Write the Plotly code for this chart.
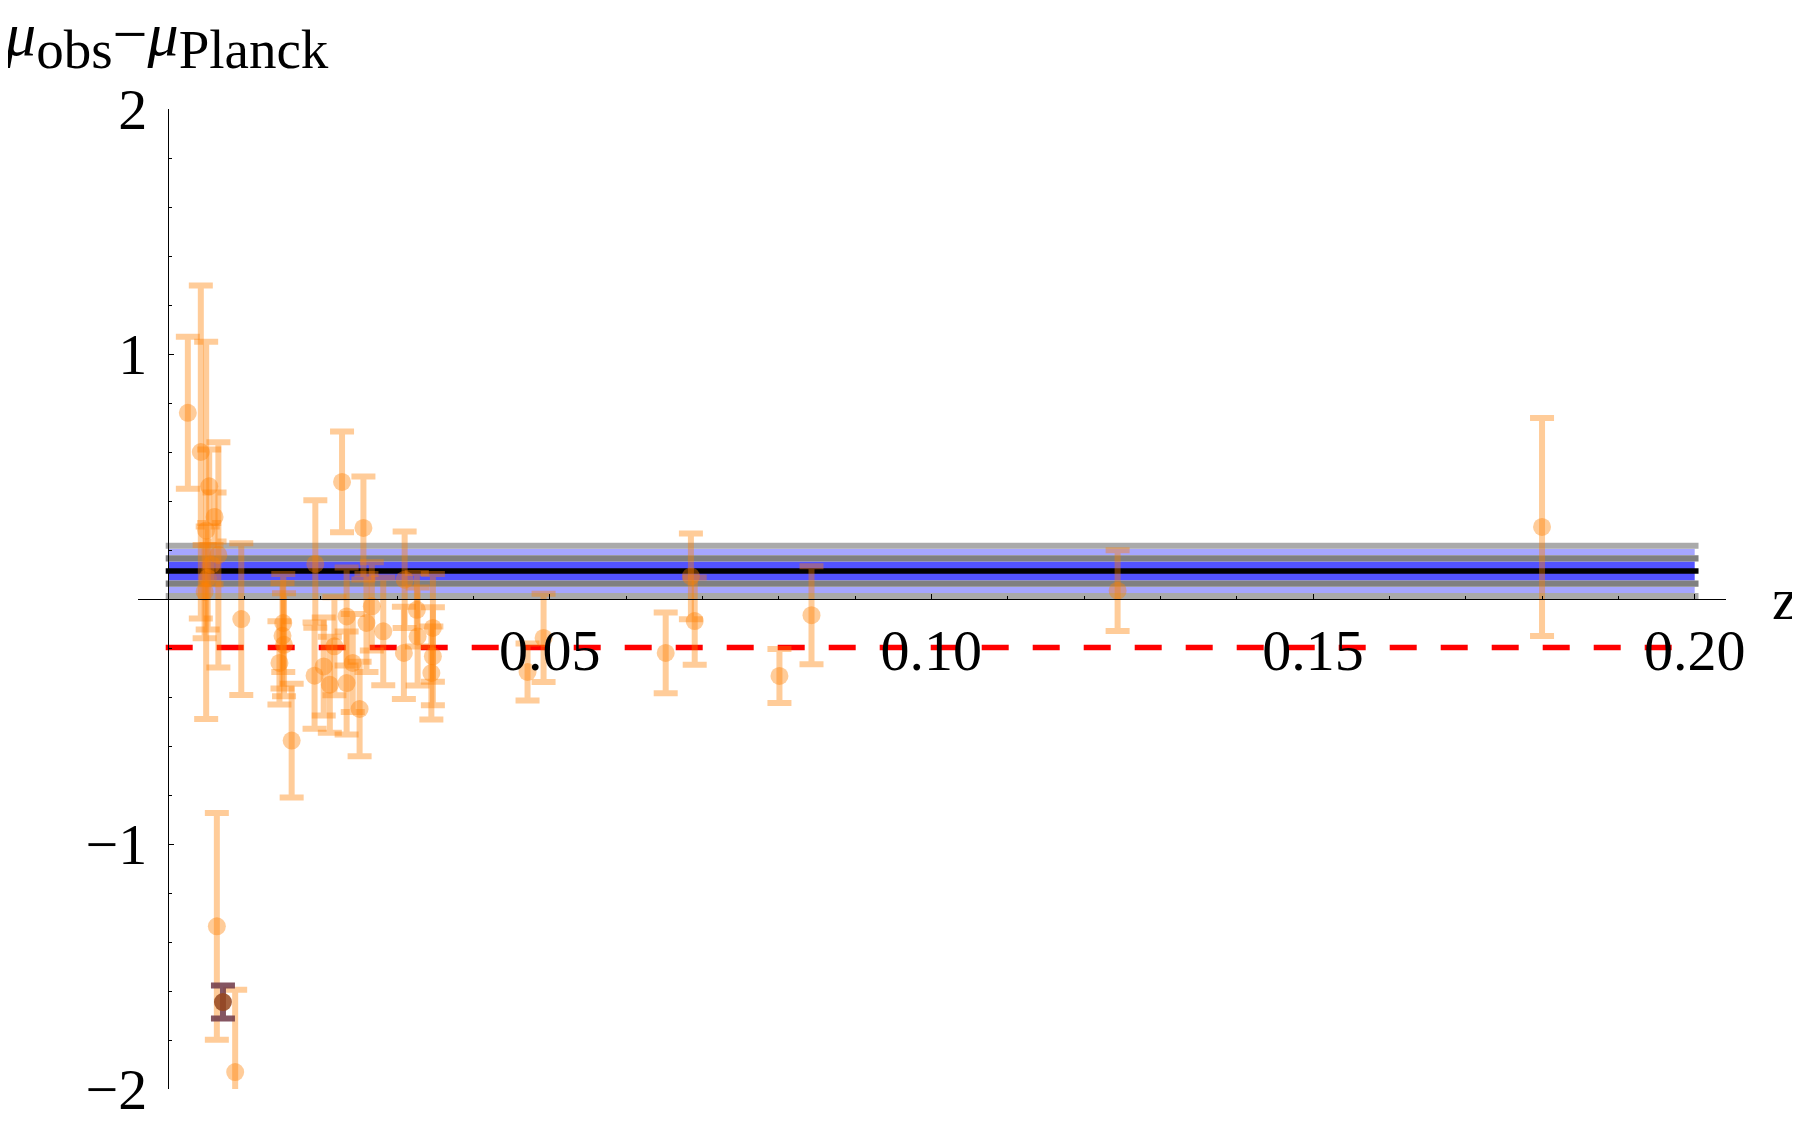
import plotly.graph_objects as go

# supernova points: redshift, mu_obs - mu_Planck, 1-sigma error
z_sn = [0.0026, 0.0043, 0.0050, 0.0054, 0.0061, 0.0066, 0.0052, 0.0048, 0.0057,
        0.0064, 0.0088, 0.0096, 0.0151, 0.0150, 0.0152, 0.0146, 0.0162,
        0.0193, 0.0192, 0.0204, 0.0212, 0.0218, 0.0228, 0.0234, 0.0234, 0.0242,
        0.0251, 0.0256, 0.0260, 0.0267, 0.0282, 0.0310, 0.0309, 0.0326, 0.0327,
        0.0347, 0.0347, 0.0345, 0.0471, 0.0492, 0.0652, 0.0685, 0.0690, 0.0801,
        0.0843, 0.1244, 0.1800]
dmu_sn = [0.76, 0.60, 0.28, 0.46, 0.335, 0.18, 0.086, 0.03, 0.14,
          -1.336, -1.931, -0.082, -0.098, -0.150, -0.187, -0.261, -0.578,
          0.143, -0.313, -0.275, -0.350, -0.193, 0.478, -0.071, -0.343, -0.261,
          -0.449, 0.290, -0.098, -0.030, -0.132, 0.079, -0.220, -0.044, -0.153,
          -0.118, -0.234, -0.302, -0.298, -0.159, -0.220, 0.092, -0.090, -0.314,
          -0.066, 0.034, 0.294]
err_sn = [0.31, 0.68, 0.77, 0.15, 0.10, 0.46, 0.21, 0.19, 0.08,
          0.463, 0.336, 0.31, 0.20, 0.215, 0.21, 0.17, 0.232,
          0.26, 0.217, 0.20, 0.196, 0.20, 0.206, 0.20, 0.21, 0.20,
          0.193, 0.21, 0.20, 0.18, 0.22, 0.197, 0.188, 0.15, 0.20,
          0.22, 0.20, 0.19, 0.116, 0.18, 0.165, 0.175, 0.178, 0.11,
          0.20, 0.165, 0.445]

# highlighted object
z_special = [0.0072]
dmu_special = [-1.645]
err_special = [0.067]

# fitted offset and its bands
fit_center = 0.1145
fit_sigma_lines = [0.0515, 0.103]   # gray edge lines at +-1, +-2 sigma
fit_z_range = [0.0, 0.2]
ref_level = -0.198                  # red dashed reference

y_ticks = [-2, -1, 1, 2]
x_ticks = [0.05, 0.10, 0.15, 0.20]

FONT = "Liberation Serif"
ORANGE = "rgba(255,128,0,0.4)"

fig = go.Figure()

# bands (drawn under the points)
shapes = []
z0, z1 = fit_z_range
s1, s2 = fit_sigma_lines
half_line = 0.0125
for sgn in (1, -1):
    # inner (1 sigma) fill
    shapes.append(dict(type="rect", xref="x", yref="y", x0=z0, x1=z1,
                       y0=fit_center, y1=fit_center + sgn * (s1 - half_line),
                       fillcolor="rgb(82,82,255)", line_width=0, layer="below"))
    # outer (2 sigma) fill
    shapes.append(dict(type="rect", xref="x", yref="y", x0=z0, x1=z1,
                       y0=fit_center + sgn * (s1 + half_line),
                       y1=fit_center + sgn * (s2 - half_line),
                       fillcolor="rgb(166,166,255)", line_width=0, layer="below"))
    # gray edge lines
    shapes.append(dict(type="rect", xref="x", yref="y", x0=z0 - 0.0003, x1=z1 + 0.0005,
                       y0=fit_center + sgn * (s1 - half_line),
                       y1=fit_center + sgn * (s1 + half_line),
                       fillcolor="rgb(128,128,128)", line_width=0, layer="below"))
    shapes.append(dict(type="rect", xref="x", yref="y", x0=z0 - 0.0003, x1=z1 + 0.0005,
                       y0=fit_center + sgn * (s2 - half_line),
                       y1=fit_center + sgn * (s2 + half_line),
                       fillcolor="rgb(170,170,170)", line_width=0, layer="below"))
# best fit line
shapes.append(dict(type="rect", xref="x", yref="y", x0=z0 - 0.0003, x1=z1 + 0.0005,
                   y0=fit_center - 0.0115, y1=fit_center + 0.0115,
                   fillcolor="black", line_width=0, layer="below"))
# reference level
shapes.append(dict(type="line", xref="x", yref="y", x0=z0 - 0.0003, x1=z1,
                   y0=ref_level, y1=ref_level,
                   line=dict(color="rgb(255,0,0)", width=5.3, dash="27px,24px"),
                   layer="below"))

fig.add_trace(go.Scatter(
    x=z_sn, y=dmu_sn, mode="markers",
    marker=dict(size=18, color=ORANGE, line_width=0),
    error_y=dict(type="data", array=err_sn, symmetric=True,
                 color=ORANGE, thickness=6, width=12),
    showlegend=False, hoverinfo="skip",
))
fig.add_trace(go.Scatter(
    x=z_special, y=dmu_special, mode="markers",
    marker=dict(size=18, color="rgba(150,70,30,0.85)", line_width=0),
    error_y=dict(type="data", array=err_special, symmetric=True,
                 color="rgba(110,55,70,0.85)", thickness=6, width=12),
    showlegend=False, hoverinfo="skip",
))

tick_font = dict(family=FONT, size=58, color="black")

# the page body adds 8px, so margins are trimmed by that much
fig.update_layout(
    width=1800, height=1126,
    margin=dict(l=130, r=82, t=101, b=45),
    paper_bgcolor="white", plot_bgcolor="white",
    shapes=shapes,
    xaxis=dict(
        range=[-0.00393, 0.2041], anchor="free", position=0.5,
        showgrid=False, zeroline=False, automargin=False,
        showline=True, linecolor="black", linewidth=1.3,
        ticks="inside", ticklen=5, tickwidth=1.3, tickcolor="black",
        tickvals=x_ticks, tickformat=".2f", tickfont=tick_font,
        ticklabelstandoff=0,
        minor=dict(ticks="inside", dtick=0.01, tick0=0, ticklen=3, tickwidth=1.1,
                   tickcolor="black", showgrid=False),
    ),
    yaxis=dict(
        range=[-2, 2], anchor="free", position=30 / 1588,
        showgrid=False, zeroline=False, automargin=False,
        showline=True, linecolor="black", linewidth=1.3,
        ticks="inside", ticklen=5, tickwidth=1.3, tickcolor="black",
        tickvals=y_ticks, tickfont=tick_font,
        ticklabelstandoff=9,
        minor=dict(ticks="inside", dtick=0.2, tick0=0, ticklen=3, tickwidth=1.1,
                   tickcolor="black", showgrid=False),
    ),
)

# axis labels
sub = "<sub><span style='font-size:55px'>{}</span></sub>"
fig.add_annotation(
    text="<i>μ</i>" + sub.format("obs") + "−<i>μ</i>" + sub.format("Planck"),
    xref="paper", yref="paper", x=-136 / 1588, y=1 + (101 - 32) / 980,
    xanchor="left", yanchor="middle", showarrow=False,
    font=dict(family=FONT, size=62, color="black"),
)
fig.add_annotation(
    text="z", xref="paper", yref="y", x=1647 / 1588, y=0.0,
    xanchor="center", yanchor="middle", showarrow=False,
    font=dict(family=FONT, size=60, color="black"),
)

fig.write_html("out.html")
